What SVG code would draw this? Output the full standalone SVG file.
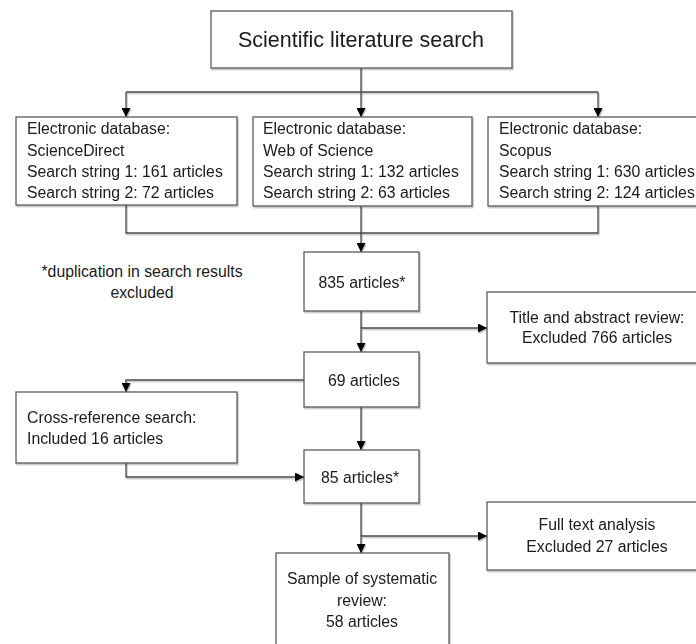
<svg xmlns="http://www.w3.org/2000/svg" width="696" height="644" viewBox="0 0 696 644">
  <defs>
    <filter id="shadow" x="-5%" y="-5%" width="110%" height="120%">
      <feDropShadow dx="1" dy="1.5" stdDeviation="0.6" flood-color="#000" flood-opacity="0.25"/>
    </filter>
    <marker id="arrow" markerUnits="userSpaceOnUse" markerWidth="9" markerHeight="9" refX="9" refY="4.5" orient="auto">
      <path d="M0,0 L9,4.5 L0,9 z" fill="#000"/>
    </marker>
  </defs>
  <style>
    .box { fill: #fff; stroke: #5a5a5a; stroke-width: 1.3; }
    .line { fill: none; stroke: #4a4a4a; stroke-width: 1.3; }
    text { font-family: "Liberation Sans", Arial, sans-serif; font-size: 15.8px; fill: #1a1a1a; }
    .c { text-anchor: middle; }
    .title { font-size: 21.5px; }
  </style>
  <rect width="696" height="644" fill="#fff"/>

  <!-- connectors -->
  <g id="connectors" filter="url(#shadow)">
    <path class="line" d="M361,68 V92 M126,92 H598"/>
    <path class="line" d="M126,92 V117" marker-end="url(#arrow)"/>
    <path class="line" d="M361,92 V117" marker-end="url(#arrow)"/>
    <path class="line" d="M598,92 V117" marker-end="url(#arrow)"/>
    <path class="line" d="M126,204 V233 H598 V206 M361,206 V233"/>
    <path class="line" d="M361,233 V252" marker-end="url(#arrow)"/>
    <path class="line" d="M361,311 V352" marker-end="url(#arrow)"/>
    <path class="line" d="M361,328 H487" marker-end="url(#arrow)"/>
    <path class="line" d="M304,380 H126 V392" marker-end="url(#arrow)"/>
    <path class="line" d="M361,407 V450" marker-end="url(#arrow)"/>
    <path class="line" d="M126,463 V477 H304" marker-end="url(#arrow)"/>
    <path class="line" d="M361,503 V553" marker-end="url(#arrow)"/>
    <path class="line" d="M361,536 H487" marker-end="url(#arrow)"/>
  </g>

  <!-- nodes -->
  <g id="search" filter="url(#shadow)">
    <rect class="box" x="211" y="11" width="301" height="57"/>
    <text class="title c" x="361" y="47">Scientific literature search</text>
  </g>

  <g id="sciencedirect" filter="url(#shadow)">
    <rect class="box" x="16" y="117" width="221" height="88"/>
    <text x="27" y="134">Electronic database:</text>
    <text x="27" y="155.5">ScienceDirect</text>
    <text x="27" y="176.5">Search string 1: 161 articles</text>
    <text x="27" y="197.5">Search string 2: 72 articles</text>
  </g>

  <g id="webofscience" filter="url(#shadow)">
    <rect class="box" x="253" y="117" width="219" height="89"/>
    <text x="263" y="134">Electronic database:</text>
    <text x="263" y="155.5">Web of Science</text>
    <text x="263" y="176.5">Search string 1: 132 articles</text>
    <text x="263" y="197.5">Search string 2: 63 articles</text>
  </g>

  <g id="scopus" filter="url(#shadow)">
    <rect class="box" x="488" y="117" width="215" height="89"/>
    <text x="499" y="134">Electronic database:</text>
    <text x="499" y="155.5">Scopus</text>
    <text x="499" y="176.5">Search string 1: 630 articles</text>
    <text x="499" y="197.5">Search string 2: 124 articles</text>
  </g>

  <g id="note">
    <text class="c" x="142" y="277">*duplication in search results</text>
    <text class="c" x="142" y="298">excluded</text>
  </g>

  <g id="n835" filter="url(#shadow)">
    <rect class="box" x="304" y="252" width="115" height="59"/>
    <text class="c" x="362" y="287.5">835 articles*</text>
  </g>

  <g id="title-abstract" filter="url(#shadow)">
    <rect class="box" x="487" y="292" width="216" height="71"/>
    <text class="c" x="597" y="322.5">Title and abstract review:</text>
    <text class="c" x="597" y="343">Excluded 766 articles</text>
  </g>

  <g id="n69" filter="url(#shadow)">
    <rect class="box" x="304" y="352" width="115" height="55"/>
    <text class="c" x="364" y="385.5">69 articles</text>
  </g>

  <g id="cross-reference" filter="url(#shadow)">
    <rect class="box" x="16" y="392" width="221" height="71"/>
    <text x="27" y="422.5">Cross-reference search:</text>
    <text x="27" y="443.5">Included 16 articles</text>
  </g>

  <g id="n85" filter="url(#shadow)">
    <rect class="box" x="304" y="450" width="115" height="53"/>
    <text class="c" x="360" y="482.5">85 articles*</text>
  </g>

  <g id="full-text" filter="url(#shadow)">
    <rect class="box" x="487" y="502" width="216" height="68"/>
    <text class="c" x="597" y="530">Full text analysis</text>
    <text class="c" x="597" y="551.5">Excluded 27 articles</text>
  </g>

  <g id="sample" filter="url(#shadow)">
    <rect class="box" x="276" y="553" width="173" height="100"/>
    <text class="c" x="362" y="584">Sample of systematic</text>
    <text class="c" x="362" y="605.5">review:</text>
    <text class="c" x="362" y="626.5">58 articles</text>
  </g>
</svg>
